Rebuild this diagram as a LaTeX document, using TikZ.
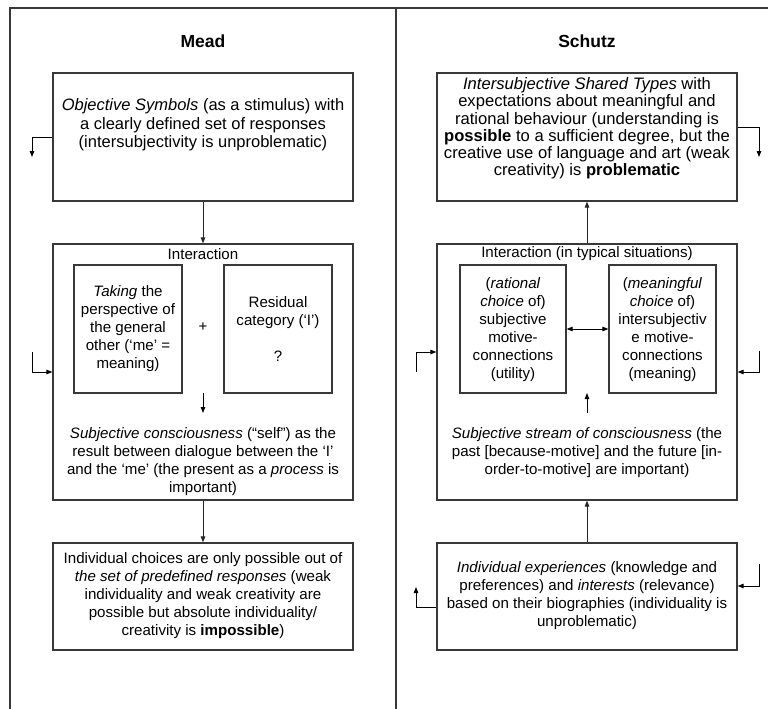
\documentclass[tikz,border=0pt]{standalone}
\usepackage{fontspec}
\setmainfont{Liberation Sans}
\usetikzlibrary{arrows.meta}
\newcommand{\bodyfont}{\fontsize{15.1}{18}\selectfont}
\newcommand{\bigbodyfont}{\fontsize{16.5}{18.6}\selectfont}
\newcommand{\midbodyfont}{\fontsize{16.6}{17.2}\selectfont}
\newcommand{\headfont}{\fontsize{17.5}{20}\selectfont\bfseries}
\begin{document}
\begin{tikzpicture}[x=1pt,y=-1pt,
  frameline/.style={draw=black!78, line width=1.5pt},
  panel/.style={draw=black!78, line width=1.2pt, rectangle, inner sep=0pt},
  txt/.style={inner sep=0pt, align=center, font=\bodyfont},
  head/.style={inner sep=0pt, font=\headfont},
  link/.style={draw=black, line width=0.9pt, -{Triangle[length=6pt,width=4.5pt]}},
  biglink/.style={link, line width=1pt, draw=black!85}]
\useasboundingbox (0,0) rectangle (768,709);

% outer frame and column divider
\draw[frameline] (10,709) -- (10,8) -- (768,8);
\draw[frameline] (396,8) -- (396,709);

% ---------------- Mead column ----------------
\node[head] (meadhead) at (203,41) {Mead};

\node[panel, minimum width=300, minimum height=128] (m1) at (203,137) {};
\node[txt, font=\bigbodyfont] (m1t) at (203,125) {\textit{Objective Symbols} (as a stimulus) with\\ a clearly defined set of responses\\ (intersubjectivity is unproblematic)};

\node[panel, minimum width=300, minimum height=256] (m2) at (203,372) {};
\node[txt] (m2h) at (203,254) {Interaction};
\node[panel, minimum width=108, minimum height=128] (m2a) at (128,329) {};
\node[txt] (m2at) at (128,329) {\textit{Taking} the\\ perspective of\\ the general\\ other (‘me’ =\\ meaning)};
\node[panel, minimum width=108, minimum height=128] (m2b) at (278,329) {};
\node[txt] (m2bt) at (278,329) {Residual\\ category (‘I’)\\ \mbox{}\\ ?};
\node[txt] (plus) at (203,327) {+};
\node[txt] (m2c) at (203,461.5) {\textit{Subjective consciousness} (“self”) as the\\ result between dialogue between the ‘I’\\ and the ‘me’ (the present as a \textit{process} is\\ important)};
\coordinate (m2arrA) at (203,393);
\coordinate (m2arrB) at (203,413);
\draw[link] (m2arrA) -- (m2arrB);

\node[panel, minimum width=300, minimum height=107] (m3) at (203,596.5) {};
\node[txt] (m3t) at (203,596) {Individual choices are only possible out of\\ \textit{the set of predefined responses} (weak\\ individuality and weak creativity are\\ possible but absolute individuality/\\ creativity is \textbf{impossible})};

\draw[biglink] (m1.south) -- (m2.north);
\draw[biglink] (m2.south) -- (m3.north);

% feedback stubs
\coordinate (mf1) at (32,157);
\draw[link] (m1.west) -- (32,137) -- (mf1);
\coordinate (mf2) at (32,352);
\draw[link] (mf2) -- (32,372) -- (m2.west |- 0,372);

% ---------------- Schutz column ----------------
\node[head] (schutzhead) at (587,41) {Schutz};

\node[panel, minimum width=300, minimum height=128] (s1) at (587,137) {};
\node[txt, font=\midbodyfont] (s1t) at (587,128.5) {\textit{Intersubjective Shared Types} with\\ expectations about meaningful and\\ rational behaviour (understanding is\\ \textbf{possible} to a sufficient degree, but the\\ creative use of language and art (weak\\ creativity) is \textbf{problematic}};

\node[panel, minimum width=300, minimum height=256] (s2) at (587,372) {};
\node[txt] (s2h) at (587,254) {Interaction (in typical situations)};
\node[panel, minimum width=106, minimum height=128] (s2a) at (513,329) {};
\node[txt] (s2at) at (513,330) {(\textit{rational}\\ \textit{choice} of)\\ subjective\\ motive-\\ connections\\ (utility)};
\node[panel, minimum width=107, minimum height=128] (s2b) at (662.5,329) {};
\node[txt] (s2bt) at (662.5,330) {(\textit{meaningful}\\ \textit{choice} of)\\ intersubjectiv\\ e motive-\\ connections\\ (meaning)};
\draw[link, {Triangle[length=6pt,width=4.5pt]}-{Triangle[length=6pt,width=4.5pt]}] (s2a.east) -- (s2b.west);
\node[txt] (s2c) at (587,453) {\textit{Subjective stream of consciousness} (the\\ past [because-motive] and the future [in-\\ order-to-motive] are important)};
\coordinate (s2arrA) at (587,413);
\coordinate (s2arrB) at (587,393);
\draw[link] (s2arrA) -- (s2arrB);

\node[panel, minimum width=300, minimum height=107] (s3) at (587,596.5) {};
\node[txt] (s3t) at (587,596) {\textit{Individual experiences} (knowledge and\\ preferences) and \textit{interests} (relevance)\\ based on their biographies (individuality is\\ unproblematic)};

\draw[biglink] (s2.north) -- (s1.south);
\draw[biglink] (s3.north) -- (s2.south);

% feedback stubs
\coordinate (sf1) at (759,157);
\draw[link] (s1.east |- 0,127) -- (759,127) -- (sf1);
\coordinate (sf2l) at (416,372);
\draw[link] (sf2l) -- (416,352) -- (s2.west |- 0,352);
\coordinate (sf2r) at (759,351);
\draw[link] (sf2r) -- (759,372) -- (s2.east |- 0,372);
\coordinate (sf3l) at (416,587);
\draw[link] (s3.west |- 0,607) -- (416,607) -- (sf3l);
\coordinate (sf3r) at (759,564);
\draw[link] (sf3r) -- (759,586) -- (s3.east |- 0,586);
\end{tikzpicture}
\end{document}
